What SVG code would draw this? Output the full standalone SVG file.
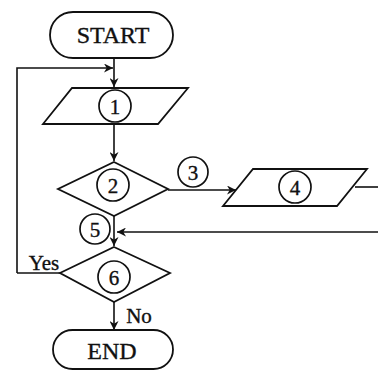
<svg xmlns="http://www.w3.org/2000/svg" width="378" height="371" viewBox="0 0 378 371">
<defs>
<marker id="ah" viewBox="0 0 10 10" refX="10" refY="5" markerWidth="9" markerHeight="9" markerUnits="userSpaceOnUse" orient="auto">
<path d="M0,0 L10,5 L0,10 L3,5 Z" fill="#111"/>
</marker>
</defs>
<style>
.s{fill:#fff;stroke:#111;stroke-width:1.8}
.c{fill:#fff;stroke:#111;stroke-width:1.7}
.l{fill:none;stroke:#111;stroke-width:1.6}
.t{font-family:"Liberation Serif","Times New Roman",serif;fill:#111;stroke:#111;stroke-width:0.35;text-anchor:middle}
.big{font-size:24px}
.num{font-size:21px}
.lab{font-size:21px}
</style>
<rect width="378" height="371" fill="#fff"/>
<g id="connectors">
<line class="l" x1="114" y1="58" x2="114" y2="87" marker-end="url(#ah)"/>
<polyline class="l" points="17,273 17,68 113,68" marker-end="url(#ah)"/>
<line class="l" x1="114" y1="124" x2="114" y2="161" marker-end="url(#ah)"/>
<line class="l" x1="168" y1="190" x2="236" y2="190" marker-end="url(#ah)"/>
<line class="l" x1="355" y1="187" x2="378" y2="187"/>
<line class="l" x1="378" y1="232" x2="117" y2="232" marker-end="url(#ah)"/>
<line class="l" x1="114" y1="216" x2="114" y2="246" marker-end="url(#ah)"/>
<line class="l" x1="60" y1="273" x2="17" y2="273"/>
<line class="l" x1="114" y1="302" x2="114" y2="330" marker-end="url(#ah)"/>
</g>
<g id="start">
<rect class="s" x="50" y="12" width="123" height="46" rx="23"/>
<text class="t big" x="113" y="43">START</text>
</g>
<g id="n1">
<polygon class="s" points="72,88 188,88 158,124 43,124"/>
<circle class="c" cx="115" cy="106" r="16"/>
<text class="t num" x="115" y="113.5">1</text>
</g>
<g id="n2">
<polygon class="s" points="114,162 168,189 114,216 58,189"/>
<circle class="c" cx="113" cy="185" r="16"/>
<text class="t num" x="113" y="192.5">2</text>
</g>
<g id="n3">
<circle class="c" cx="193" cy="172" r="15"/>
<text class="t num" x="193" y="179.5">3</text>
</g>
<g id="n4">
<polygon class="s" points="253,169 367,169 337,206 223,206"/>
<circle class="c" cx="295" cy="187" r="16"/>
<text class="t num" x="295" y="194.5">4</text>
</g>
<g id="n5">
<circle class="c" cx="95" cy="229" r="15"/>
<text class="t num" x="95" y="236.5">5</text>
</g>
<g id="n6">
<polygon class="s" points="114,247 170,273 114,302 60,273"/>
<circle class="c" cx="114" cy="277" r="16"/>
<text class="t num" x="114" y="284.5">6</text>
</g>
<g id="end">
<rect class="s" x="53" y="330" width="120" height="39" rx="19.5"/>
<text class="t big" x="112" y="359">END</text>
</g>
<text class="t lab" x="44" y="270">Yes</text>
<text class="t lab" x="139" y="323">No</text>
</svg>
